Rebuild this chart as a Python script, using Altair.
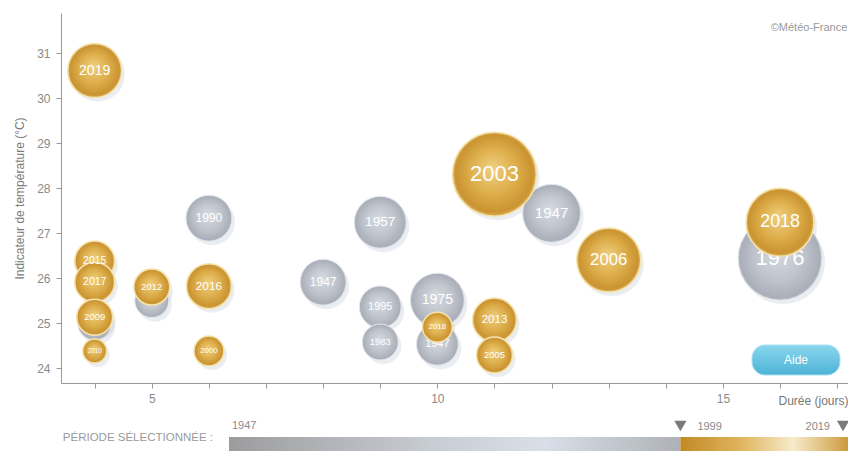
import altair as alt
import pandas as pd

# ---- data ----
annees = ["2019", "2015", "2017", "2009", "", "2010", "2012", "", "2016", "2000",
          "1990", "1957", "1947", "1995", "1983", "1975", "2018", "1947", "2013",
          "2005", "2003", "1947", "2006", "2018", "1976"]
periodes = ["recente", "recente", "recente", "recente", "ancienne", "recente", "recente",
            "ancienne", "recente", "recente", "ancienne", "ancienne", "ancienne",
            "ancienne", "ancienne", "ancienne", "recente", "ancienne", "recente",
            "recente", "recente", "ancienne", "recente", "recente", "ancienne"]
durees = [4, 4, 4, 4, 4, 4, 5, 5, 6, 6, 6, 9, 8, 9, 9, 10, 10, 10, 11, 11, 11, 12, 13, 16, 16]
temperatures = [30.61, 26.38, 25.91, 25.13, 25.0, 24.38, 25.8, 25.5, 25.82, 24.38,
                27.33, 27.24, 25.91, 25.36, 24.58, 25.51, 24.91, 24.53, 25.07,
                24.29, 28.31, 27.44, 26.4, 27.24, 26.44]
intensites = [27, 20, 20, 18, 17, 12, 18, 17, 22.5, 15, 23, 26, 23, 21, 18, 27, 15, 21,
              22, 18, 42, 29, 32, 34, 42]

periode_debut = [1947, 1999]
periode_fin = [1999, 2019]
periode_nom = ["ancienne", "recente"]
bornes = [1947, 1999, 2019]
bornes_txt = ["1947", "1999", "2019"]

df = pd.DataFrame({"annee": annees, "periode": periodes, "duree": durees,
                   "temperature": temperatures, "intensite": intensites})
df_gris = df[df.periode == "ancienne"]
df_or = df[df.periode == "recente"]
bar_df = pd.DataFrame({"debut": periode_debut, "fin": periode_fin, "periode": periode_nom})
bornes_df = pd.DataFrame({"annee": bornes, "txt": bornes_txt})

W, H = 787, 370
FONT = "Liberation Sans"

x_scale = alt.Scale(domain=[3.41, 17.19], nice=False, zero=False)
y_scale = alt.Scale(domain=[23.67, 31.89], nice=False, zero=False)
# vega symbol size = bounding-box area = (2r)^2
size_scale = alt.Scale(type="pow", exponent=2, domain=[0, 42], range=[0, 4 * 42 ** 2])
font_scale = alt.Scale(type="linear", domain=[0, 42], range=[0, 22])

x_axis = alt.Axis(values=list(range(4, 18)), labelExpr="datum.value % 5 == 0 ? datum.label : ''",
                  grid=False, domainColor="#9a9a9a", tickColor="#9a9a9a", tickSize=5,
                  labelColor="#8a8a8a", labelFontSize=12, labelFont=FONT, labelPadding=5,
                  title="Durée (jours)", titleFont=FONT, titleFontSize=12, titleFontWeight="normal",
                  titleColor="#777777", titleAlign="right", titleAnchor="end", titleX=W,
                  titleY=17, titleBaseline="middle")
y_axis = alt.Axis(values=list(range(24, 32)), grid=False, domainColor="#9a9a9a",
                  tickColor="#9a9a9a", tickSize=5, labelColor="#8a8a8a", labelFontSize=12,
                  labelFont=FONT, labelPadding=6, title="Indicateur de température (°C)",
                  titleFont=FONT, titleFontSize=12, titleFontWeight="normal",
                  titleColor="#7a7a7a", titlePadding=10)


def enc(chart, axes=False):
    return chart.encode(
        x=alt.X("duree:Q", scale=x_scale, axis=x_axis if axes else None),
        y=alt.Y("temperature:Q", scale=y_scale, axis=y_axis),
    )


grad_or = alt.RadialGradient(
    gradient="radial", x1=0.47, y1=0.42, r1=0, x2=0.5, y2=0.5, r2=0.5,
    stops=[alt.GradientStop(color="#EFCF80", offset=0),
           alt.GradientStop(color="#DDAE4B", offset=0.55),
           alt.GradientStop(color="#C99330", offset=0.92),
           alt.GradientStop(color="#DDB461", offset=1)])
grad_gris = alt.RadialGradient(
    gradient="radial", x1=0.47, y1=0.42, r1=0, x2=0.5, y2=0.5, r2=0.5,
    stops=[alt.GradientStop(color="#D6DAE1", offset=0),
           alt.GradientStop(color="#BFC3CB", offset=0.6),
           alt.GradientStop(color="#A9AEB8", offset=0.95),
           alt.GradientStop(color="#BCC0C8", offset=1)])

ombres = enc(alt.Chart(df).mark_circle(color="#C3CAD8", opacity=0.35, xOffset=3, yOffset=4),
             axes=True).encode(size=alt.Size("intensite:Q", scale=size_scale, legend=None))
cercles_gris = enc(alt.Chart(df_gris).mark_circle(fill=grad_gris, opacity=1, stroke="#E4E7EC",
                                                   strokeWidth=1)).encode(
    size=alt.Size("intensite:Q", scale=size_scale, legend=None))
textes_gris = enc(alt.Chart(df_gris).mark_text(color="white", font=FONT, baseline="middle")).encode(
    text="annee:N", size=alt.Size("intensite:Q", scale=font_scale, legend=None))
cercles_or = enc(alt.Chart(df_or).mark_circle(fill=grad_or, opacity=1, stroke="#F5E3B0",
                                               strokeWidth=1.5)).encode(
    size=alt.Size("intensite:Q", scale=size_scale, legend=None))
textes_or = enc(alt.Chart(df_or).mark_text(color="white", font=FONT, baseline="middle")).encode(
    text="annee:N", size=alt.Size("intensite:Q", scale=font_scale, legend=None))

# credit and help button
credit = alt.Chart(pd.DataFrame({"t": ["©Météo-France"]})).mark_text(
    font=FONT, fontSize=11, color="#9a9a9a", align="center", baseline="middle").encode(
    x=alt.value(748), y=alt.value(15), text="t:N")
aide_grad = alt.LinearGradient(gradient="linear", x1=0, y1=0, x2=0, y2=1,
                               stops=[alt.GradientStop(color="#8AD6EE", offset=0),
                                      alt.GradientStop(color="#4DB3D6", offset=1)])
aide_btn = alt.Chart(pd.DataFrame({"t": ["Aide"]})).mark_rect(
    fill=aide_grad, cornerRadius=13, stroke="#A8E0F2", strokeWidth=1).encode(
    x=alt.value(691), x2=alt.value(779), y=alt.value(332), y2=alt.value(362))
aide_txt = alt.Chart(pd.DataFrame({"t": ["Aide"]})).mark_text(
    font=FONT, fontSize=12, color="white", align="center", baseline="middle").encode(
    x=alt.value(735), y=alt.value(347), text="t:N")

# selected period bar
bar_scale = alt.Scale(domain=[1947, 2019], range=[168, 793], nice=False, zero=False)
grad_bar_gris = alt.LinearGradient(gradient="linear", x1=0, y1=0, x2=1, y2=0,
                                   stops=[alt.GradientStop(color="#9C9C9E", offset=0),
                                          alt.GradientStop(color="#C8CCD3", offset=0.45),
                                          alt.GradientStop(color="#D9DFE8", offset=0.7),
                                          alt.GradientStop(color="#AEB1B7", offset=1)])
grad_bar_or = alt.LinearGradient(gradient="linear", x1=0, y1=0, x2=1, y2=0,
                                 stops=[alt.GradientStop(color="#C28A26", offset=0),
                                        alt.GradientStop(color="#E0B55E", offset=0.35),
                                        alt.GradientStop(color="#F7EBCB", offset=0.65),
                                        alt.GradientStop(color="#C8922E", offset=1)])
bar_gris = alt.Chart(bar_df).mark_rect(fill=grad_bar_gris).encode(
    x=alt.X("debut:Q", scale=bar_scale, axis=None), x2="fin:Q",
    y=alt.value(424), y2=alt.value(446)).transform_filter("datum.periode == 'ancienne'")
bar_or = alt.Chart(bar_df).mark_rect(fill=grad_bar_or).encode(
    x=alt.X("debut:Q", scale=bar_scale, axis=None), x2="fin:Q",
    y=alt.value(424), y2=alt.value(446)).transform_filter("datum.periode == 'recente'")

lbl_common = dict(font=FONT, fontSize=11, color="#8a8a8a", baseline="middle")
lbl_1947 = alt.Chart(bornes_df).mark_text(align="left", dx=3, **lbl_common).encode(
    x=alt.X("annee:Q", scale=bar_scale, axis=None), y=alt.value(413), text="txt:N"
).transform_filter("datum.annee == 1947")
lbl_1999 = alt.Chart(bornes_df).mark_text(align="left", dx=17, **lbl_common).encode(
    x=alt.X("annee:Q", scale=bar_scale, axis=None), y=alt.value(414), text="txt:N"
).transform_filter("datum.annee == 1999")
lbl_2019 = alt.Chart(bornes_df).mark_text(align="right", dx=-24, **lbl_common).encode(
    x=alt.X("annee:Q", scale=bar_scale, axis=None), y=alt.value(414), text="txt:N"
).transform_filter("datum.annee == 2019")
tri_1999 = alt.Chart(bornes_df).mark_point(shape="triangle-down", filled=True, size=150,
                                           color="#7a7a7a", opacity=1).encode(
    x=alt.X("annee:Q", scale=bar_scale, axis=None), y=alt.value(413)
).transform_filter("datum.annee == 1999")
tri_2019 = alt.Chart(bornes_df).mark_point(shape="triangle-down", filled=True, size=150,
                                           color="#7a7a7a", opacity=1, xOffset=-11).encode(
    x=alt.X("annee:Q", scale=bar_scale, axis=None), y=alt.value(413)
).transform_filter("datum.annee == 2019")
titre_periode = alt.Chart(bornes_df).mark_text(
    align="right", dx=-16, font=FONT, fontSize=11.5, color="#9a9a9a", baseline="middle").encode(
    x=alt.X("annee:Q", scale=bar_scale, axis=None), y=alt.value(425),
    text=alt.value("PÉRIODE SÉLECTIONNÉE :")
).transform_filter("datum.annee == 1947")

chart = alt.layer(
    ombres, cercles_gris, textes_gris, cercles_or, textes_or,
    credit, aide_btn, aide_txt,
    bar_gris, bar_or, lbl_1947, lbl_1999, lbl_2019, tri_1999, tri_2019, titre_periode,
).resolve_scale(x="independent", size="independent").properties(
    width=W, height=H, autosize="none",
    padding={"left": 53, "top": 5, "right": 0, "bottom": 68},
).configure_view(stroke=None)

chart.save("out.html", embed_options={"renderer": "svg", "actions": False})
